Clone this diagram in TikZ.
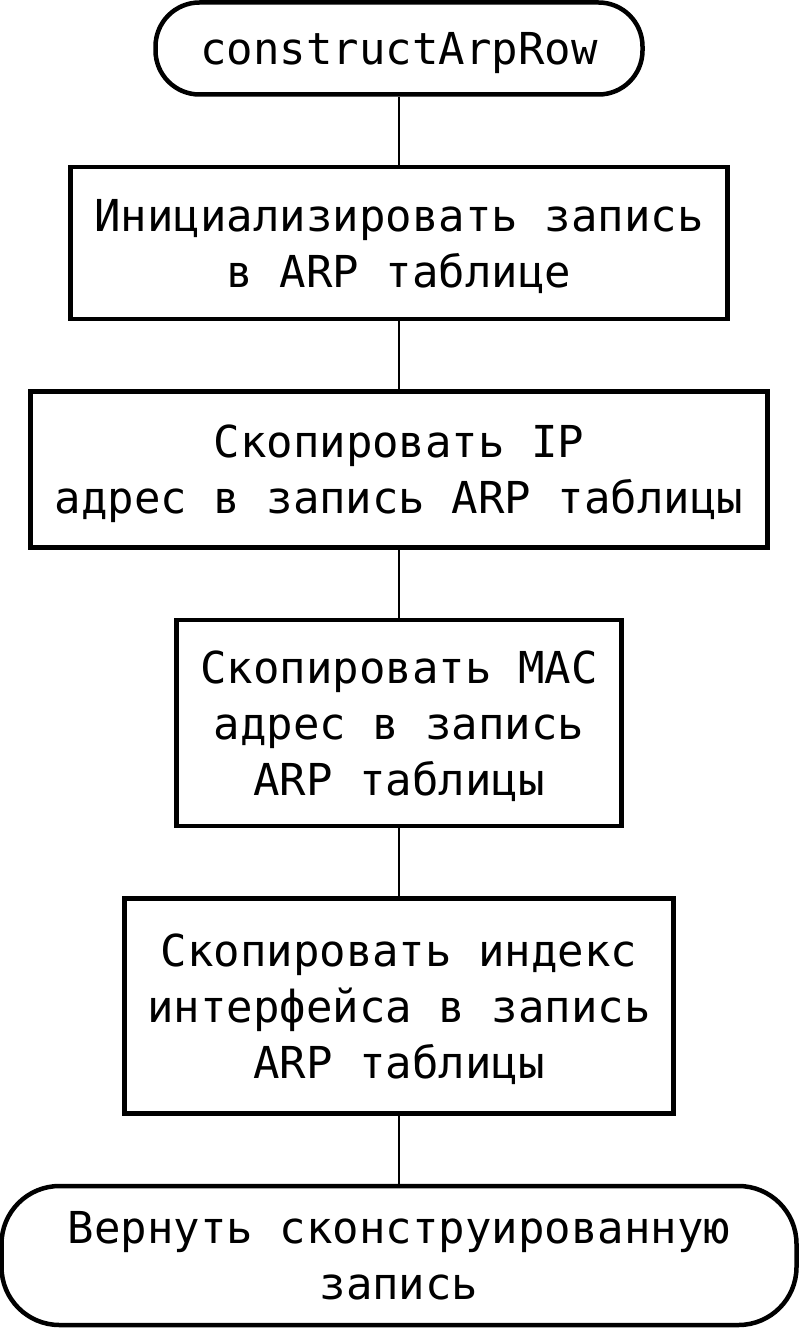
\documentclass[tikz,border=0pt]{standalone}
\usepackage{fontspec}
\setmonofont{DejaVu Sans Mono}
\usetikzlibrary{positioning}
\tikzset{
  stepbox/.style={draw=black, line width=4.5pt, align=center, fill=white,
    inner sep=0pt, text depth=-4pt, font=\ttfamily\fontsize{44}{56}\selectfont},
  terminal/.style={stepbox, rounded corners=44pt},
  link/.style={draw=black, line width=2pt}
}
\begin{document}
\begin{tikzpicture}[x=1pt, y=1pt, node distance=68pt]
  \useasboundingbox (0,0) rectangle (800,-1329);
  \node[terminal, minimum width=487pt, minimum height=92pt] (start) at (399,-48.5) {constructArpRow};

  \node[stepbox, below=of start, minimum width=657pt, minimum height=152pt] (init)
    {Инициализировать запись\\в ARP таблице};
  \node[stepbox, below=of init, minimum width=737pt, minimum height=156pt] (copyip)
    {Скопировать IP\\адрес в запись ARP таблицы};
  \node[stepbox, below=of copyip, minimum width=445pt, minimum height=206pt] (copymac)
    {Скопировать MAC\\адрес в запись\\ARP таблицы};
  \node[stepbox, below=of copymac, minimum width=549pt, minimum height=215pt] (copyidx)
    {Скопировать индекс\\интерфейса в запись\\ARP таблицы};
  \node[terminal, rounded corners=58pt, below=of copyidx, minimum width=795pt, minimum height=139pt] (finish)
    {Вернуть сконструированную\\запись};

  \draw[link] (start) -- (init);
  \draw[link] (init) -- (copyip);
  \draw[link] (copyip) -- (copymac);
  \draw[link] (copymac) -- (copyidx);
  \draw[link] (copyidx) -- (finish);
\end{tikzpicture}
\end{document}
